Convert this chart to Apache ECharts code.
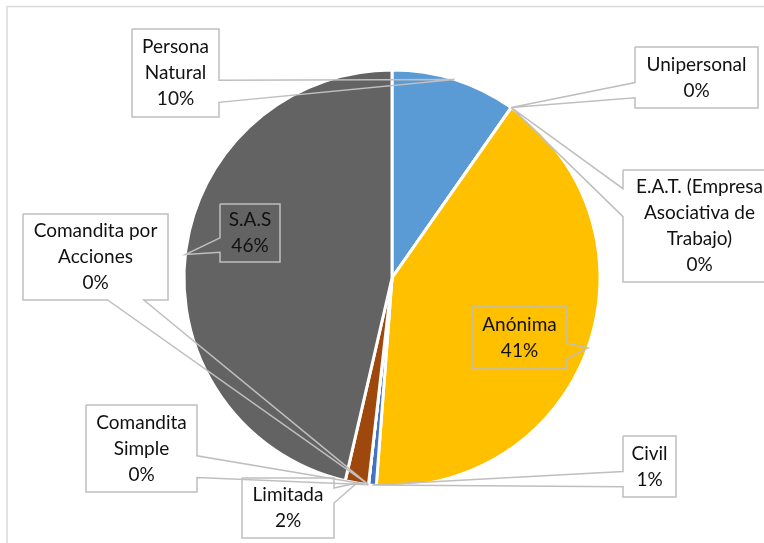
<!DOCTYPE html>
<html>
<head>
<meta charset="utf-8">
<title>Tipo de sociedad</title>
<script src="https://cdn.jsdelivr.net/npm/echarts@6/dist/echarts.min.js"></script>
<style>
  html, body { margin: 0; padding: 0; background: #fff; }
  #pieChart { width: 764px; height: 543px; }
</style>
</head>
<body>
<div id="pieChart"></div>
<script>
// categorias, en el orden de la hoja (sentido horario desde arriba)
var categorias = [
  "Persona\nNatural",
  "Unipersonal",
  "E.A.T. (Empresa\nAsociativa de\nTrabajo)",
  "Anónima",
  "Civil",
  "Comandita\nSimple",
  "Comandita por\nAcciones",
  "Limitada",
  "S.A.S"
];
// porcentaje de cada tipo
var valores = [9.7, 0, 0, 41.4, 0.6, 0, 0, 1.8, 46.3];

// paleta de office
var colores = ["#5B9BD5", "#ED7D31", "#A5A5A5", "#FFC000", "#4472C4", "#70AD47", "#255E91", "#9E480E", "#636363"];

// caja de cada etiqueta: [izq, arriba, ancho, alto]
var cajas = [
  [132, 29, 87, 88],
  [635, 47, 123, 61],
  [623, 170, 153, 112],
  [472, 307, 95, 62],
  [623, 436, 53, 61],
  [86, 405, 111, 87],
  [23, 214, 145, 86],
  [242, 478, 92, 60],
  [220, 204, 60, 58]
];

// contorno tipo "llamada" (rectangulo + cuña hacia el punto)
function llamada(caja, p) {
  var l = caja[0], t = caja[1], w = caja[2], h = caja[3];
  var r = l + w, b = t + h;
  var dx = p[0] - (l + w / 2), dy = p[1] - (t + h / 2);
  var dz = Math.abs(dy) - Math.abs(dx * h / w);
  var x1 = l + w * (dx > 0 ? 7 : 2) / 12, x2 = l + w * (dx > 0 ? 10 : 5) / 12;
  var y1 = t + h * (dy > 0 ? 7 : 2) / 12, y2 = t + h * (dy > 0 ? 10 : 5) / 12;
  var lado = dz > 0 ? (dy > 0 ? "b" : "t") : (dx > 0 ? "r" : "l");
  var pts = [[l, t]];
  if (lado == "t") pts.push([x1, t], p, [x2, t]);
  pts.push([r, t]);
  if (lado == "r") pts.push([r, y1], p, [r, y2]);
  pts.push([r, b]);
  if (lado == "b") pts.push([x2, b], p, [x1, b]);
  pts.push([l, b]);
  if (lado == "l") pts.push([l, y2], p, [l, y1]);
  pts.push([l, t]);
  return pts;
}

var datos = categorias.map(function (c, i) {
  return { name: c, value: valores[i] };
});

var myChart = echarts.init(document.getElementById("pieChart"));
var option = {
  animation: false,
  color: colores,
  graphic: [
    {
      // borde del area del grafico
      type: "rect",
      z: -10,
      shape: { x: 7, y: 6.5, width: 900, height: 700 },
      style: { fill: "none", stroke: "#D9D9D9", lineWidth: 1.5 }
    }
  ],
  series: [
    {
      // sectores
      type: "pie",
      center: [392, 278],
      radius: 208,
      startAngle: 90,
      silent: true,
      avoidLabelOverlap: false,
      itemStyle: { borderColor: "#fff", borderWidth: 3 },
      label: { show: false },
      labelLine: { show: false },
      data: datos
    },
    {
      // etiquetas (encima de todos los sectores)
      type: "pie",
      center: [392, 278],
      radius: 208,
      startAngle: 90,
      silent: true,
      z: 5,
      avoidLabelOverlap: false,
      itemStyle: { color: "rgba(0,0,0,0)", borderWidth: 0 },
      label: {
        show: true,
        position: "outside",
        color: "#111",
        fontFamily: "Lato, sans-serif",
        fontSize: 19,
        lineHeight: 26,
        align: "center",
        formatter: function (p) {
          return p.name + "\n" + Math.round(p.percent) + "%";
        }
      },
      labelLine: {
        show: true,
        length: 10,
        length2: 10,
        lineStyle: { color: "#BFBFBF", width: 1.5, opacity: 1 }
      },
      labelLayout: function (p) {
        var c = cajas[p.dataIndex];
        var punto = p.labelLinePoints[0];
        return {
          x: c[0] + c[2] / 2,
          y: c[1] + c[3] / 2,
          align: "center",
          verticalAlign: "middle",
          labelLinePoints: llamada(c, punto)
        };
      },
      data: datos
    }
  ]
};

myChart.setOption(option);
</script>
</body>
</html>
